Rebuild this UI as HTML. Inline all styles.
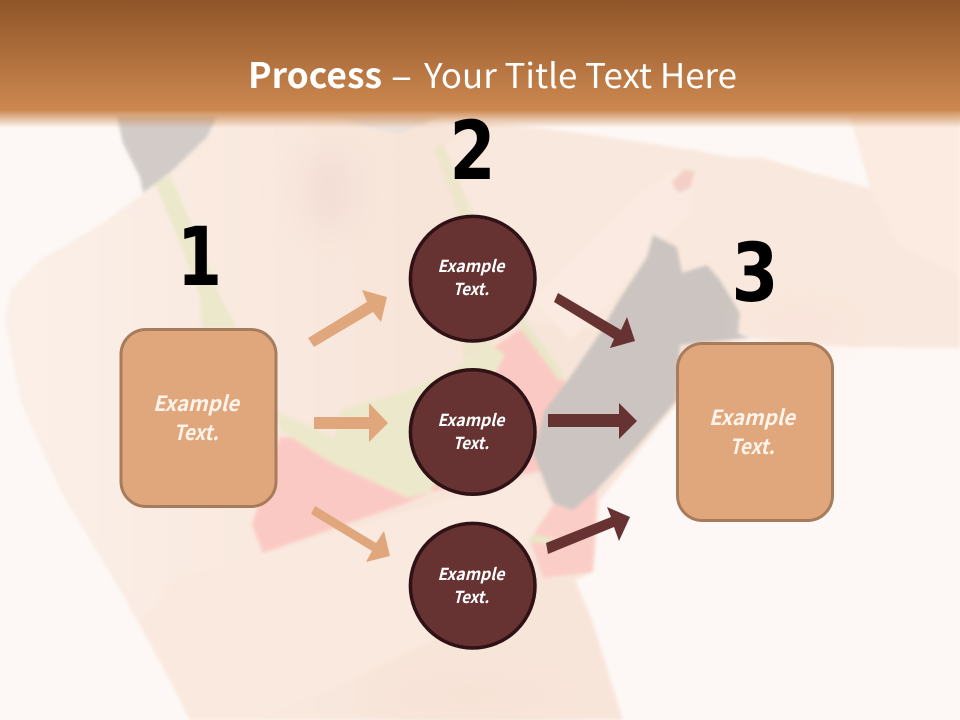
<!DOCTYPE html>
<html><head><meta charset="utf-8"><style>
html,body{margin:0;padding:0;background:#fdf8f5}
svg{display:block}
text{font-family:"Noto Sans CJK JP","Liberation Sans",sans-serif}
text.d{font-family:"DejaVu Sans","Liberation Sans",sans-serif}
</style></head><body>
<svg width="960" height="720" viewBox="0 0 960 720" xmlns="http://www.w3.org/2000/svg">
<defs>
<linearGradient id="hdr" gradientUnits="userSpaceOnUse" x1="0" y1="0" x2="0" y2="128">
<stop offset="0" stop-color="#8f5528"/><stop offset=".86" stop-color="#cd8850"/><stop offset="1" stop-color="#cd8850" stop-opacity="0"/>
</linearGradient>
<linearGradient id="skin" gradientUnits="userSpaceOnUse" x1="0" y1="0" x2="400" y2="0">
<stop offset="0" stop-color="#fbf0e9"/><stop offset=".6" stop-color="#f9e9df"/><stop offset="1" stop-color="#f8e5da"/>
</linearGradient>
<filter id="b" filterUnits="userSpaceOnUse" x="-20" y="-20" width="1000" height="760"><feGaussianBlur stdDeviation="1.8"/></filter>
<filter id="s" filterUnits="userSpaceOnUse" x="-20" y="-20" width="1000" height="760"><feGaussianBlur stdDeviation="18"/></filter>
</defs>
<rect width="960" height="720" fill="#fdf8f5"/>
<g filter="url(#b)">
<!-- body -->
<path d="M155 185L100 225L40 260L10 290L5 320L20 400L60 490L120 590L170 680L190 720L623 720L592 620L575 580L593 572L600 500L680 400L750 345L600 320L640 200L480 130L350 115L200 115Z" fill="url(#skin)"/>
<!-- upper arm -->
<path d="M480 122L530 127L580 133L693 150L730 157L763 158L813 173L870 188L850 115L960 115L960 348L850 347L750 338L680 300L600 330L530 320L470 220L440 150Z" fill="#f9e8dd"/>
<path d="M850 115L960 115L960 277L897 243L870 187Z" fill="#fbebe1"/>
<!-- fingers -->
<path d="M535 300L580 250L640 195L668 172L696 170L690 215L660 240L610 300L570 340Z" fill="#faeae1"/>
<path d="M672 182L684 170L695 171L690 188L678 193Z" fill="#f3cfc7"/>
<!-- red -->
<path d="M280 437L335 440L410 480L450 380L490 350L523 327L565 382L545 470L430 492L407 503L263 553L252 525Z" fill="#fbc9c3"/>
<path d="M553 505L597 490L593 572L543 578L530 540Z" fill="#fbcdc7"/>
<!-- cream -->
<path d="M340 410L410 390L470 360L490 343L505 355L460 440L430 492L408 498L330 462L280 430L277 412L335 438Z" fill="#ece8cb"/>
<path d="M155 183L170 175L200 243L218 293L237 328L202 328L200 297L180 243Z" fill="#ece8cb"/>
<path d="M433 147L443 143L473 213L490 345L463 363L457 213Z" fill="#eee6cc"/>
<path d="M523 317L563 373L560 382L518 325Z" fill="#e9e6c8"/>
<path d="M530 533L560 540L558 546L525 541Z" fill="#e9e6c8"/>
<!-- forearm -->
<path d="M253 560L400 513L533 477L553 503L527 543L480 600L433 640L330 690L250 720L190 720L140 620L180 575Z" fill="#fae9df"/>
<!-- glove -->
<path d="M653 235L677 247L682 273L707 265L720 280L740 313L738 333L750 338L680 345L677 400L637 447L597 490L573 510L553 503L533 453L545 410L570 377L600 333L617 303L647 257Z" fill="#cbc4c0"/>
<!-- hair -->
<path d="M117 116L217 116L207 137L173 170L143 193L140 177L123 143Z" fill="#d2cbc8"/>
<path d="M337 116L440 116L400 134L360 125Z" fill="#ebe0da"/>
</g>
<!-- soft shading -->
<g filter="url(#s)">
<ellipse cx="330" cy="190" rx="25" ry="45" fill="#f3ddd4"/>
<ellipse cx="800" cy="325" rx="55" ry="10" fill="#f9e0d7"/>
<ellipse cx="470" cy="695" rx="100" ry="20" fill="#f7e2d5"/>
</g>
<rect width="960" height="128" fill="url(#hdr)"/>
<text x="248" y="88" font-size="35" font-weight="700" fill="#fff" textLength="134" lengthAdjust="spacingAndGlyphs">Process</text>
<text x="391" y="88" font-size="33" font-weight="500" fill="#fff" textLength="21" lengthAdjust="spacingAndGlyphs">–</text>
<text x="424" y="88" font-size="34" fill="#fff" textLength="313" lengthAdjust="spacingAndGlyphs">Your Title Text Here</text>
<g fill="#000" font-size="81" font-weight="700" text-anchor="middle">
<text class="d" x="199.5" y="285" textLength="45" lengthAdjust="spacingAndGlyphs">1</text>
<text class="d" x="472.5" y="179" textLength="46" lengthAdjust="spacingAndGlyphs">2</text>
<text class="d" x="755" y="301" textLength="47" lengthAdjust="spacingAndGlyphs">3</text>
</g>
<rect x="121" y="329.5" width="155" height="177" rx="25" fill="#e0a77c" stroke="#a67c5d" stroke-width="3"/>
<rect x="677.5" y="343.5" width="155" height="177" rx="25" fill="#e0a77c" stroke="#a67c5d" stroke-width="3"/>
<g fill="#fdf3ea" font-size="21" font-weight="700" font-style="italic" text-anchor="middle">
<text x="196" y="411" textLength="86" lengthAdjust="spacingAndGlyphs">Example</text>
<text x="196" y="440" textLength="45" lengthAdjust="spacingAndGlyphs">Text.</text>
<text x="752" y="425" textLength="86" lengthAdjust="spacingAndGlyphs">Example</text>
<text x="752" y="454" textLength="45" lengthAdjust="spacingAndGlyphs">Text.</text>
</g>
<g fill="#673232" stroke="#2e1215" stroke-width="3.5">
<circle cx="472.7" cy="278.7" r="62.3"/>
<circle cx="472.7" cy="432" r="62.3"/>
<circle cx="472.7" cy="585.7" r="62.3"/>
</g>
<g fill="#fff" font-size="16.5" font-weight="700" font-style="italic" text-anchor="middle">
<text x="471" y="272" textLength="67" lengthAdjust="spacingAndGlyphs">Example</text>
<text x="471" y="295" textLength="36" lengthAdjust="spacingAndGlyphs">Text.</text>
<text x="471" y="426" textLength="67" lengthAdjust="spacingAndGlyphs">Example</text>
<text x="471" y="449" textLength="36" lengthAdjust="spacingAndGlyphs">Text.</text>
<text x="471" y="580" textLength="67" lengthAdjust="spacingAndGlyphs">Example</text>
<text x="471" y="603" textLength="36" lengthAdjust="spacingAndGlyphs">Text.</text>
</g>
<g fill="#e0a77c">
<path d="M308 338L367 302L362 290L387 297L381 322L373 312L314 347Z"/>
<path d="M314 417L369 417L369 403L388 423L369 442L369 429L314 429Z"/>
<path d="M315 506L376 543L384 531L390 556L366 562L372 551L311 514Z"/>
</g>
<g fill="#673232">
<path d="M558 293L621 330L627 317L635 341L610 348L614 339L554 302Z"/>
<path d="M548 414L619 414L619 403L637 421L619 439L619 427L548 427Z"/>
<path d="M546 543L611 517L607 507L630 517L619 541L614 527L548 554Z"/>
</g>
</svg>
</body></html>
